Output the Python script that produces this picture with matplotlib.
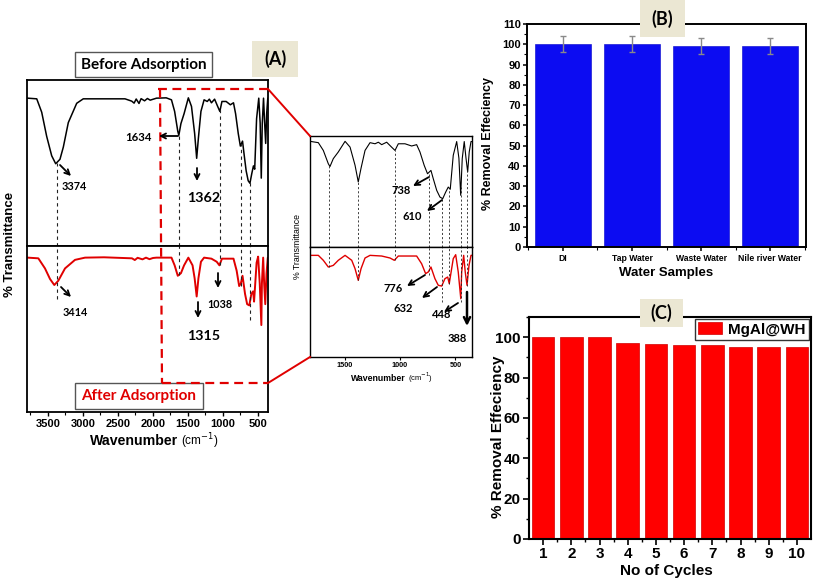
import numpy as np
import matplotlib
matplotlib.use('Agg')
import matplotlib.pyplot as plt
from matplotlib.patches import Rectangle, FancyArrowPatch
from matplotlib.lines import Line2D
from matplotlib.ticker import MultipleLocator, FixedLocator

plt.rcParams['font.family'] = ['Liberation Sans', 'DejaVu Sans']

W, H = 813, 582

# FTIR spectra (wavenumber, % transmittance)
before_wn = [3790, 3661, 3590, 3519, 3447, 3390, 3329, 3281, 3210, 3090, 2996,
             2400, 2304, 2270, 2240, 2200, 2170, 2120, 2080, 2040, 1950,
             1811, 1736, 1691, 1646, 1631, 1601, 1556, 1495, 1450, 1405, 1376,
             1351, 1315, 1270, 1225, 1195, 1165, 1120, 1076, 1045, 1015, 955,
             895, 850, 820, 782, 752, 721, 700, 669, 640, 615, 588, 565, 547,
             520, 489, 469, 453, 439, 421, 405, 390, 376, 360, 352]
before_t = [95, 94.6, 86.5, 71.9, 60.1, 55.3, 58, 65.4, 80.2, 91.9, 94.6,
            94.6, 93.2, 92.0, 94.5, 91.8, 94.7, 93.4, 94.8, 93.8, 95,
            95.2, 94, 87, 75, 72.5, 79.6, 85.6, 95.2, 90, 73.6, 58.6,
            71, 87, 94, 93, 94.4, 92.2, 94.4, 90, 87, 93, 93,
            91, 92.2, 85.6, 73.6, 66, 69, 61.5, 51, 45, 43.5, 49.5, 54, 52,
            82.6, 95, 80, 46.6, 79.6, 95, 80, 67.6, 85.6, 95, 95]

after_wn = [3790, 3638, 3543, 3471, 3410, 3353, 3257, 3114, 2971, 2700,
            2300, 2260, 2220, 2150, 2100, 2050, 2000, 1950,
            1811, 1736, 1691, 1646, 1601, 1556, 1495, 1435, 1405, 1376, 1351,
            1315, 1270, 1165, 1090, 1051, 1015, 850, 805, 769, 745, 721, 685,
            655, 624, 595, 570, 556, 520, 498, 475, 452, 444, 426, 412, 396,
            378, 360, 352]
after_t = [92.4, 92.0, 86.1, 79.9, 76.4, 78.9, 86.1, 91.1, 92.4, 92.6,
           92.0, 91.0, 92.3, 91.4, 92.4, 91.5, 92.2, 92.4,
           92.4, 92.4, 87.9, 81.8, 83.3, 87.9, 92.4, 87.9, 80.3, 69.7, 80.3,
           90, 92.4, 91.8, 90, 87.9, 91.8, 91.8, 84.8, 75.8, 77.3, 81.8, 71.2,
           65.2, 64.5, 71.2, 72.7, 66.7, 89.4, 93, 77.3, 53, 77.3, 92.4, 77.3, 65.2,
           83.3, 92.4, 92.4]

main_peaks = [3374, 1634, 1038, 738, 610]
main_after_ends = [68, 82, 88, 76, 56]
inset_peaks = [1640, 1376, 1045, 739, 619, 556, 450, 393]
inset_after_ends = [81.8, 69.7, 87.9, 74.2, 50, 66.7, 50, 65]

water_samples = ['DI', 'Tap Water', 'Waste Water', 'Nile river Water']
water_removal = [100, 100, 99, 99]
water_err = [4, 4, 4, 4]

cycles = [1, 2, 3, 4, 5, 6, 7, 8, 9, 10]
cycle_removal = [100, 100, 100, 97, 96.5, 96, 96, 95, 95, 95]


def rect(l, t, r, b):
    return [l / W, 1 - b / H, (r - l) / W, (b - t) / H]


def fp(x, y):
    return (x / W, 1 - y / H)


def bold_ticks(ax):
    for lbl in ax.get_xticklabels() + ax.get_yticklabels():
        lbl.set_fontweight('bold')


fig = plt.figure(figsize=(W / 100, H / 100), dpi=100)

# ---------------- panel A: main spectra ----------------
axA1 = fig.add_axes(rect(27, 80, 268, 246))
axA2 = fig.add_axes(rect(27, 246, 268, 412))
for ax in (axA1, axA2):
    ax.set_xlim(3800, 357)
    ax.set_yticks([])
    for s in ax.spines.values():
        s.set_linewidth(1.3)
axA1.plot(before_wn, before_t, color='black', lw=1.1)
axA1.set_ylim(5.5, 106)
axA1.set_xticks([])
axA2.plot(after_wn, after_t, color='#e00000', lw=1.4)
axA2.set_ylim(2.2, 99.2)
axA2.set_xticks([3500, 3000, 2500, 2000, 1500, 1000, 500])
axA2.xaxis.set_minor_locator(MultipleLocator(250))
axA2.tick_params(axis='x', which='major', direction='out', length=3, width=1, labelsize=8, pad=2)
axA2.tick_params(axis='x', which='minor', direction='out', length=2, width=0.8)
bold_ticks(axA2)

bw = np.array(before_wn)[::-1]
bt = np.array(before_t)[::-1]

axA1.vlines(main_peaks, 5.5, np.interp(main_peaks, bw, bt), colors='#222222',
            linestyles=(0, (3, 3)), lw=0.8)
axA2.vlines(main_peaks, main_after_ends, 99.2, colors='#222222',
            linestyles=(0, (3, 3)), lw=0.8)

fig.text(10 / W, 1 - 244 / H, '% Transmittance', rotation=90, ha='center', va='center',
         fontsize=9.5, fontweight='bold')
fig.text(178 / W, 1 - 445 / H, 'Wavenumber', ha='right', va='baseline', fontsize=10.2, fontweight='bold')
fig.text(181 / W, 1 - 445 / H, '(cm$^{-1}$)', ha='left', va='baseline', fontsize=8.5)

# ---------------- panel A: zoomed inset ----------------
axI1 = fig.add_axes(rect(310, 136, 472, 247))
axI2 = fig.add_axes(rect(310, 247, 472, 357))
for ax in (axI1, axI2):
    ax.set_xlim(1811, 351)
    ax.set_ylim(0, 100)
    ax.set_yticks([])
    for s in ax.spines.values():
        s.set_linewidth(1.0)
axI1.plot(before_wn, before_t, color='black', lw=0.8)
axI1.set_xticks([])
axI2.plot(after_wn, after_t, color='#e00000', lw=1.0)
axI2.set_xticks([1500, 1000, 500])
axI2.tick_params(axis='x', direction='out', length=2, width=0.8, labelsize=5.2, pad=1.5)
bold_ticks(axI2)
axI1.vlines(inset_peaks, 0, np.interp(inset_peaks, bw, bt), colors='#222222',
            linestyles=(0, (2.5, 2.5)), lw=0.6)
axI2.vlines(inset_peaks, inset_after_ends, 100, colors='#222222',
            linestyles=(0, (2.5, 2.5)), lw=0.6)

fig.text(297 / W, 1 - 246 / H, '% Transmittance', rotation=90, ha='center', va='center', fontsize=6.3)
fig.text(406 / W, 1 - 381 / H, 'Wavenumber', ha='right', va='baseline', fontsize=6.3, fontweight='bold')
fig.text(408 / W, 1 - 381 / H, '(cm$^{-1}$)', ha='left', va='baseline', fontsize=5.5)

# zoom frame
red = '#e00000'
for (x0, y0, x1, y1) in [(160, 89, 162, 383), (158, 89, 268, 89), (162, 383, 268, 383)]:
    fig.add_artist(Line2D([x0 / W, x1 / W], [1 - y0 / H, 1 - y1 / H], transform=fig.transFigure,
                          color=red, lw=1.6, dashes=(4, 2.5), zorder=7))
for (x0, y0, x1, y1) in [(268, 89, 310, 136), (268, 383, 310, 357)]:
    fig.add_artist(Line2D([x0 / W, x1 / W], [1 - y0 / H, 1 - y1 / H], transform=fig.transFigure,
                          color=red, lw=1.4, zorder=7))


def arrow(x0, y0, x1, y1, lw=1.3, ms=9):
    fig.add_artist(FancyArrowPatch(fp(x0, y0), fp(x1, y1), transform=fig.transFigure,
                                   arrowstyle='->', lw=lw, color='black', mutation_scale=ms,
                                   shrinkA=0, shrinkB=0, zorder=8))


def note(x, y, s, size=8):
    fig.text(x / W, 1 - y / H, s, ha='center', va='center', fontsize=size, fontweight='bold',
             family=['Lato', 'DejaVu Sans'], zorder=8)


def boxed(x0, y0, x1, y1, s, size, fc, ec, tc):
    fig.add_artist(Rectangle(fp(x0, y1), (x1 - x0) / W, (y1 - y0) / H, transform=fig.transFigure,
                             facecolor=fc, edgecolor=ec, lw=1, zorder=5))
    fig.text((x0 + x1) / 2 / W, 1 - (y0 + y1) / 2 / H, s, ha='center', va='center', fontsize=size,
             fontweight='bold', color=tc, family=['Lato', 'DejaVu Sans'], zorder=6)


note(74, 187, '3374', 7.8)
arrow(60, 165, 71, 176)
note(138, 137, '1634', 8.2)
arrow(178, 136, 159, 136)
note(204, 198, '1362', 10.3)
arrow(197, 168, 197, 181)
note(75, 312, '3414', 7.8)
arrow(61, 287, 71, 297)
note(220, 304, '1038', 7.8)
arrow(218, 273, 218, 288)
note(204, 336, '1315', 10.3)
arrow(198, 302, 198, 318)

note(401, 191, '738')
arrow(429, 177, 413, 186)
note(412, 216, '610')
arrow(442, 200, 427, 211)
note(393, 289, '776')
arrow(425, 275, 407, 286)
note(403, 309, '632')
arrow(437, 287, 422, 298)
note(442, 314, '448')
arrow(458, 303, 444, 312)
note(457, 338, '388')
arrow(467, 292, 467, 326, lw=1.8, ms=11)

boxed(75, 52, 212, 77, 'Before Adsorption', 11, 'white', '#555555', 'black')
boxed(75, 383, 203, 409, 'After Adsorption', 11, 'white', '#555555', '#e00000')
boxed(252, 41, 298, 77, '(A)', 13, '#ebe7d3', 'none', 'black')

# ---------------- panel B ----------------
axB = fig.add_axes(rect(527, 24, 806, 247))
xb = np.arange(len(water_samples))
axB.bar(xb, water_removal, width=0.8, color='#0c0cf2', edgecolor='#0000c8', lw=0.4)
axB.errorbar(xb, water_removal, yerr=water_err, fmt='none', ecolor='#8a8a8a', elinewidth=1,
             capsize=2, capthick=1)
axB.set_xlim(-0.52, 3.52)
axB.set_ylim(0, 110)
axB.set_yticks(range(0, 111, 10))
axB.yaxis.set_minor_locator(MultipleLocator(5))
axB.set_xticks(xb, water_samples)
axB.xaxis.set_minor_locator(FixedLocator([-0.5, 0.5, 1.5, 2.5, 3.5]))
axB.tick_params(axis='y', which='major', direction='out', length=3, width=1.1, labelsize=8, pad=1.5)
axB.tick_params(axis='y', which='minor', direction='out', length=2, width=0.8)
axB.tick_params(axis='x', which='major', direction='out', length=3, width=1.1, labelsize=6.2, pad=2)
axB.tick_params(axis='x', which='minor', direction='out', length=2, width=0.8)
bold_ticks(axB)
for s in axB.spines.values():
    s.set_linewidth(1.4)
fig.text(666 / W, 1 - 273 / H, 'Water Samples', ha='center', va='center', fontsize=9.5, fontweight='bold')
fig.text(488 / W, 1 - 144 / H, '% Removal Effeciency', rotation=90, ha='center', va='center',
         fontsize=9, fontweight='bold')
boxed(640, 0, 685, 37, '(B)', 13, '#ebe7d3', 'none', 'black')

# ---------------- panel C ----------------
axC = fig.add_axes(rect(529, 317, 811, 539))
axC.bar(cycles, cycle_removal, width=0.8, color='#ff0000', edgecolor='#d00000', lw=0.5, label='MgAl@WH')
axC.set_xlim(0.5, 10.5)
axC.set_ylim(0, 110)
axC.set_yticks(range(0, 101, 20))
axC.yaxis.set_minor_locator(MultipleLocator(10))
axC.set_xticks(cycles)
axC.xaxis.set_minor_locator(FixedLocator([c + 0.5 for c in cycles[:-1]]))
axC.tick_params(axis='both', which='major', direction='out', length=4, width=1.2, labelsize=11, pad=2)
axC.tick_params(axis='both', which='minor', direction='out', length=2.5, width=1)
bold_ticks(axC)
for s in axC.spines.values():
    s.set_linewidth(1.5)
leg = axC.legend(loc='upper right', prop={'weight': 'bold', 'size': 11}, frameon=True, fancybox=False,
                 edgecolor='black', borderaxespad=0.15, handlelength=1.6, handleheight=0.8,
                 borderpad=0.2, handletextpad=0.4)
leg.get_frame().set_linewidth(1.0)
fig.text(666 / W, 1 - 571 / H, 'No of Cycles', ha='center', va='center', fontsize=11, fontweight='bold')
fig.text(498 / W, 1 - 437 / H, '% Removal Effeciency', rotation=90, ha='center', va='center',
         fontsize=11, fontweight='bold')
boxed(640, 299, 683, 327, '(C)', 13, '#ebe7d3', 'none', 'black')

fig.savefig('out.png', dpi=100)
